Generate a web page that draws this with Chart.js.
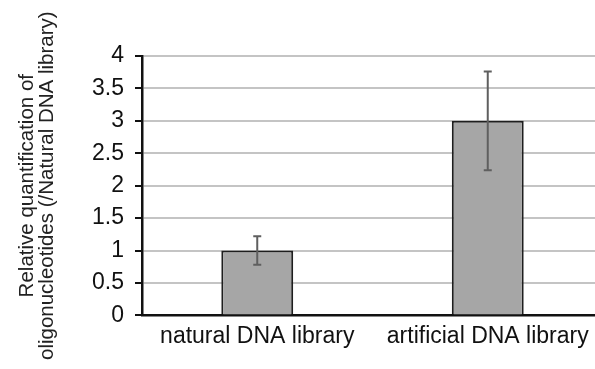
<!DOCTYPE html>
<html>
<head>
<meta charset="utf-8">
<script src="https://cdn.jsdelivr.net/npm/chart.js@4/dist/chart.umd.min.js"></script>
<style>
  html, body { margin: 0; padding: 0; background: #fff; overflow: hidden; }
  #wrap { position: relative; width: 603px; height: 369px; }
</style>
</head>
<body>
<div id="wrap"><canvas id="chart"></canvas></div>
<script>
// Relative oligonucleotide quantification, normalised to the natural library
const categories = ['natural DNA library', 'artificial DNA library'];
const quantities = [1.0, 3.0];
const errors = [0.22, 0.76];
const yTicks = [0, 0.5, 1, 1.5, 2, 2.5, 3, 3.5, 4];
const yTitle = ['Relative quantification of', 'oligonucleotides (/Natural DNA library)'];

const FONT = "'Liberation Sans', Arial, Helvetica, sans-serif";

// Whiskers drawn on top of the bars from the y scale
const errorBars = {
  id: 'errorBars',
  afterDatasetsDraw(chart) {
    const { ctx, scales: { y } } = chart;
    const meta = chart.getDatasetMeta(0);
    ctx.save();
    ctx.strokeStyle = '#5f5f5f';
    ctx.lineWidth = 2;
    meta.data.forEach((bar, i) => {
      const v = quantities[i], e = errors[i];
      const x = bar.x;
      const yTop = y.getPixelForValue(v + e);
      const yBot = y.getPixelForValue(v - e);
      const cap = 4;
      ctx.beginPath();
      ctx.moveTo(x, yTop); ctx.lineTo(x, yBot);
      ctx.moveTo(x - cap, yTop); ctx.lineTo(x + cap, yTop);
      ctx.moveTo(x - cap, yBot); ctx.lineTo(x + cap, yBot);
      ctx.stroke();
    });
    ctx.restore();
  }
};

new Chart(document.getElementById('chart'), {
  type: 'bar',
  data: {
    labels: categories,
    datasets: [{
      data: quantities,
      backgroundColor: '#a6a6a6',
      borderColor: '#1e1e1e',
      borderWidth: 2,
      categoryPercentage: 1,
      barPercentage: 0.312
    }]
  },
  options: {
    responsive: true,
    maintainAspectRatio: false,
    animation: false,
    layout: { padding: { left: 0, right: 0, top: 56, bottom: 12 } },
    plugins: { legend: { display: false }, tooltip: { enabled: false } },
    scales: {
      x: {
        grid: { display: false, drawTicks: false },
        border: { display: true, color: '#111', width: 2.5 },
        ticks: { color: '#111', padding: 7, font: { family: FONT, size: 23 }, maxRotation: 0, autoSkip: false }
      },
      y: {
        min: 0,
        max: 4,
        afterFit(scale) { scale.width = 142; },
        afterBuildTicks(scale) { scale.ticks = yTicks.map(v => ({ value: v })); },
        grid: { color: '#c4c4c4', lineWidth: 2, tickColor: '#111', tickLength: 7, tickWidth: 2 },
        border: { display: true, color: '#111', width: 2.5 },
        ticks: {
          color: '#111',
          padding: 11,
          font: { family: FONT, size: 23 },
          callback: (v) => String(v)
        },
        title: {
          display: true,
          text: yTitle,
          color: '#222',
          padding: { top: 17, bottom: 4 },
          font: { family: FONT, size: 20.5, lineHeight: 1 }
        }
      }
    }
  },
  plugins: [errorBars]
});
</script>
</body>
</html>
